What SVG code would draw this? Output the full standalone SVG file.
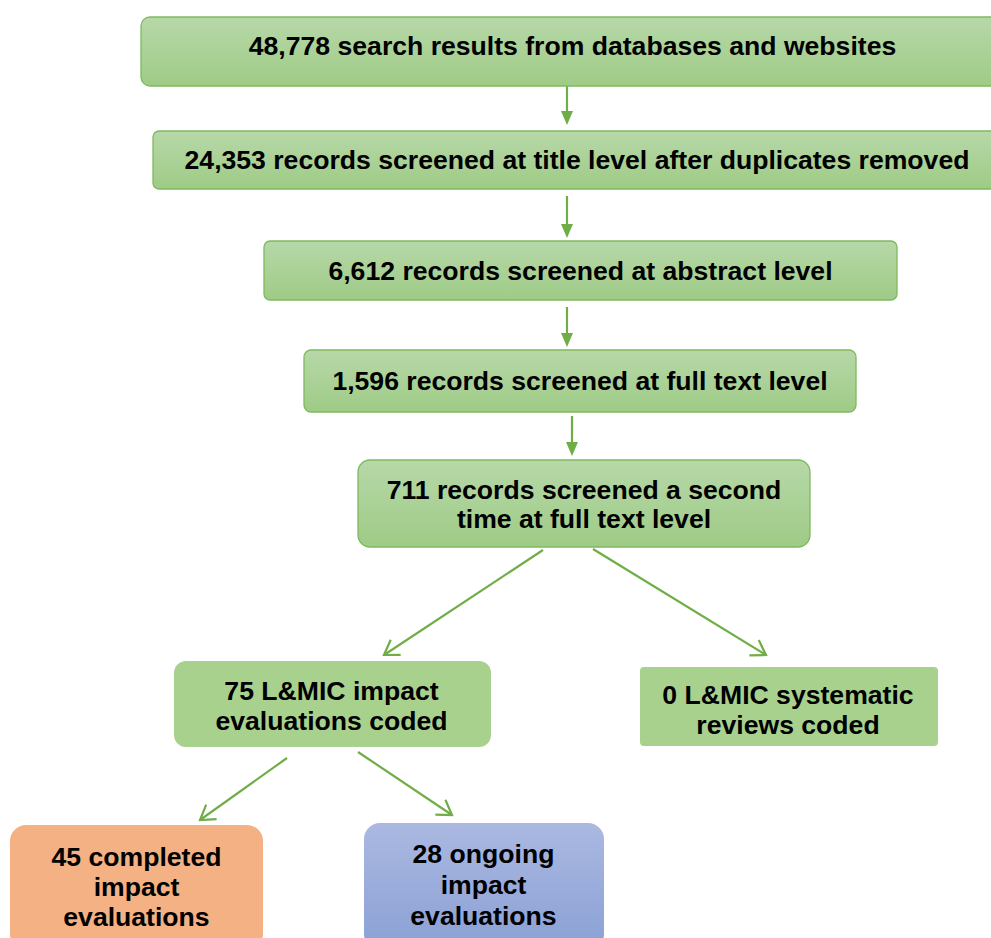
<svg xmlns="http://www.w3.org/2000/svg" width="991" height="938" viewBox="0 0 991 938">
<style>
.t{font-family:"Liberation Sans",Arial,sans-serif;font-weight:bold;font-size:26.6px;fill:#000;text-anchor:middle}
.g{fill:url(#gg);stroke:#7fb95f;stroke-width:1.3}
.f{fill:#a9d18e}
.c{stroke:#70ad47;stroke-width:2.2;fill:none}
.h{fill:#70ad47}
</style>
<defs>
<linearGradient id="gg" x1="0" y1="0" x2="0" y2="1"><stop offset="0" stop-color="#b7d8a8"/><stop offset="1" stop-color="#9ecb86"/></linearGradient>
<linearGradient id="gb" x1="0" y1="0" x2="0" y2="1"><stop offset="0" stop-color="#abb9e1"/><stop offset="1" stop-color="#8aa0d5"/></linearGradient>
<marker id="v" viewBox="0 0 20 20" refX="18" refY="10" markerWidth="20" markerHeight="20" markerUnits="userSpaceOnUse" orient="auto"><path d="M4,1 L18,10 L4,19" fill="none" stroke="#70ad47" stroke-width="2.2"/></marker>
</defs>
<g id="connectors">
<line class="c" x1="567" y1="86" x2="567" y2="114"/>
<path class="h" d="M561,111 L573,111 L567,125 Z"/>
<line class="c" x1="567" y1="196" x2="567" y2="228"/>
<path class="h" d="M561,224 L573,224 L567,238 Z"/>
<line class="c" x1="567" y1="307" x2="567" y2="336"/>
<path class="h" d="M561,333 L573,333 L567,347 Z"/>
<line class="c" x1="572" y1="416" x2="572" y2="446"/>
<path class="h" d="M566,442 L578,442 L572,456 Z"/>
<line class="c" x1="543" y1="550" x2="384" y2="655" marker-end="url(#v)"/>
<line class="c" x1="593" y1="549" x2="766" y2="655" marker-end="url(#v)"/>
<line class="c" x1="287" y1="758" x2="200" y2="820" marker-end="url(#v)"/>
<line class="c" x1="358" y1="752" x2="452" y2="815" marker-end="url(#v)"/>
</g>
<g id="n1"><rect class="g" x="141" y="17" width="870" height="69" rx="9"/><text class="t" x="572.5" y="54.5">48,778 search results from databases and websites</text></g>
<g id="n2"><rect class="g" x="153" y="131" width="858" height="58" rx="6"/><text class="t" x="577" y="169">24,353 records screened at title level after duplicates removed</text></g>
<g id="n3"><rect class="g" x="264" y="241" width="633" height="59" rx="6"/><text class="t" x="580.5" y="280">6,612 records screened at abstract level</text></g>
<g id="n4"><rect class="g" x="304" y="350" width="552" height="62" rx="7"/><text class="t" x="580" y="390">1,596 records screened at full text level</text></g>
<g id="n5"><rect class="g" x="358" y="460" width="452" height="87" rx="12"/><text class="t" x="584" y="499">711 records screened a second</text><text class="t" x="584" y="528">time at full text level</text></g>
<g id="n6"><rect class="f" x="174" y="661" width="317" height="86" rx="12"/><text class="t" x="331.5" y="700">75 L&amp;MIC impact</text><text class="t" x="331.5" y="730">evaluations coded</text></g>
<g id="n7"><rect class="f" x="640" y="667" width="298" height="79" rx="4"/><text class="t" x="788" y="704">0 L&amp;MIC systematic</text><text class="t" x="788" y="734">reviews coded</text></g>
<g id="n8"><rect fill="#f4b183" x="10" y="825" width="253" height="125" rx="16"/><text class="t" x="136.5" y="866">45 completed</text><text class="t" x="136.5" y="896">impact</text><text class="t" x="136.5" y="926">evaluations</text></g>
<g id="n9"><rect fill="url(#gb)" x="364" y="823" width="240" height="127" rx="16"/><text class="t" x="483.5" y="863">28 ongoing</text><text class="t" x="483.5" y="894">impact</text><text class="t" x="483.5" y="925">evaluations</text></g>
</svg>
